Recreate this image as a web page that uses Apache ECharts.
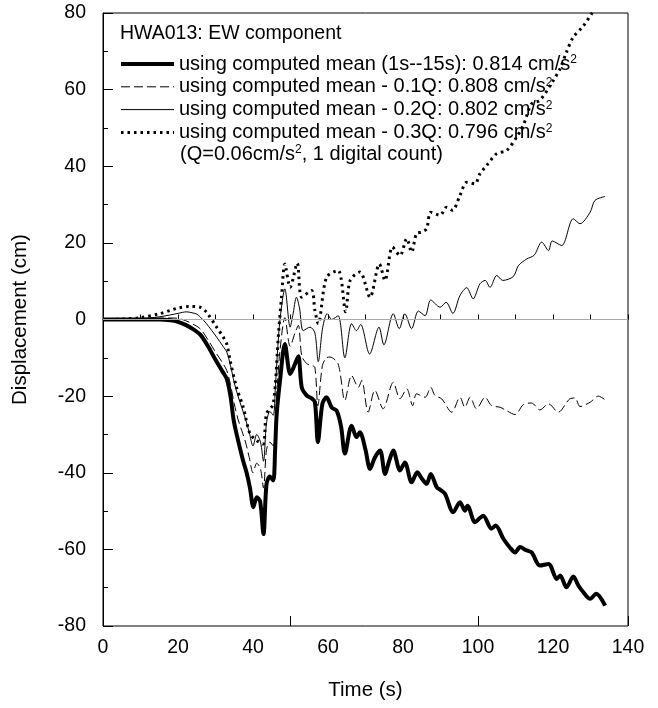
<!DOCTYPE html>
<html>
<head>
<meta charset="utf-8">
<script src="https://cdn.jsdelivr.net/npm/echarts@6/dist/echarts.min.js"></script>
<style>
  html, body { margin: 0; padding: 0; background: #fff; }
  #chart { width: 658px; height: 708px; }
</style>
</head>
<body>
<div id="chart"></div>
<script>
// [time (s), displacement (cm)]
const meanPts = [
  [0,0],[5,0],[10,0],[15,0],[18,-0.2],[20,-0.6],[22,-1.4],[24,-2.5],[26,-4],[28,-7],[30,-10.5],[32,-13.8],
  [33,-15.5],[34,-20],[34.8,-26],[35.6,-29.8],[36.5,-33.5],[37.4,-37],[38.3,-40],[39.2,-44],[40.1,-49],
  [41,-46.4],[41.9,-47.5],[42.8,-56],[43.6,-43],[44.5,-41],[45.4,-42],[45.9,-34],[46.3,-25],[47.2,-16],
  [48.5,-6.4],[49.9,-14.2],[50.6,-13],[51.2,-11.6],[52.1,-9.6],[53,-17.7],[54.3,-19.8],[55.5,-20.5],
  [56.5,-21.5],[57.3,-32],[58.5,-22],[59.6,-20.3],[61,-23],[62.3,-23.8],[63.5,-28],[64.5,-35],[66.3,-27.7],
  [67.6,-30.7],[68.5,-29.4],[70,-34],[71.2,-39],[72.5,-36],[73.9,-34.2],[75.2,-40.3],[76.3,-37],[77.4,-34.2],
  [79.2,-39.4],[80.5,-37.3],[82.3,-42.5],[83.8,-39.9],[85,-41.5],[86.3,-42.9],[87.4,-40.3],[89,-43.8],
  [90,-44.5],[91.2,-45.5],[93.4,-50.3],[95.2,-47.7],[96.5,-49.9],[97.2,-48.6],[99.2,-52.9],[100.5,-51.8],
  [101.4,-51.2],[103.6,-54.6],[104.7,-53.8],[106.8,-57.3],[108.5,-59.5],[109.9,-60.8],[111.2,-59.4],
  [112.8,-60.2],[114.3,-60.8],[116.5,-64.2],[118.8,-63.8],[121,-67.7],[121.9,-66.8],[123.6,-69.9],
  [125.4,-67.1],[126.8,-69.5],[128.1,-71.2],[129.9,-72.9],[131.5,-71.6],[133.9,-74.7]
];
const minus01Pts = [
  [0,0],[5,0],[10,0.1],[15,0.3],[18,0.4],[20,0.3],[22,-0.3],[24,-1.2],[26,-2.5],[28,-5.3],[30,-8.5],
  [32,-11.5],[33,-13.3],[34,-17],[35,-22],[36,-26],[37,-29],[38,-32],[39,-36],[40,-40],[41,-37.5],[42,-39],
  [42.8,-44],[43.6,-34],[44.5,-32],[45.4,-33],[46,-26],[46.5,-17],[47.2,-8],[48.5,0.5],[49.9,-7],[51.2,-3.5],
  [52.1,-1.5],[53,-9.5],[54.3,-11.5],[55.5,-12],[56.5,-12.5],[57.3,-22.5],[58.5,-12],[59.6,-10],[60.5,-9.8],
  [62.7,-11.6],[64.5,-21.1],[66.3,-14.6],[68.1,-17.7],[69,-15.9],[70.7,-24.2],[72.5,-18.5],[74.7,-23.3],
  [77.4,-16.4],[79.2,-20.7],[81,-18.1],[82.6,-22.5],[83.6,-19.4],[85.9,-20.3],[87.4,-17.7],[88.5,-19.8],
  [90.3,-20.7],[93,-24.2],[95.2,-20.3],[96.5,-22.9],[97.9,-20.3],[99.6,-23.3],[101.9,-20.3],[103.6,-22.5],
  [105.9,-22.9],[107.6,-23.8],[109.9,-24.8],[112.1,-22.2],[114.3,-21.8],[116.5,-23.6],[118.8,-22],
  [121.4,-24.2],[124.5,-20.7],[125.9,-20.5],[127.2,-22.7],[129.9,-21.6],[132.1,-20],[134.3,-21.3]
];
const minus02Pts = [
  [0,0],[5,0],[10,0.2],[15,0.7],[18,1.2],[20,1.6],[22.3,2],[24,1.7],[25,1.4],[26,0.6],[27.6,-1.1],
  [30.3,-4.6],[32,-7],[33,-8.5],[34,-12],[35,-16.5],[36,-20],[37,-23],[38,-26],[39,-29.5],[40,-33],[41,-30],
  [42,-32],[42.8,-37],[43.6,-27],[44.5,-24],[45.4,-25],[46,-17],[46.5,-9],[47.2,0],[48.5,8],[49.9,-2],
  [50.6,1],[51.6,5.8],[52.4,3],[53.4,-2.9],[55.2,-2],[56.5,-3.5],[57.4,-11],[58.6,-2],[59.8,1.5],[61,0],
  [62.7,1],[64.5,-10],[66.3,-1.1],[67.6,-2.9],[68.7,-1.3],[71.1,-9],[73.6,-2],[74.9,-6.6],[77.4,1.5],
  [79,-2.4],[80.5,1.5],[82.3,-2.4],[84.1,2.2],[85.9,1],[87.4,5.1],[89.9,3.2],[91.5,4.5],[93.3,1.6],
  [95.2,6.3],[97,8.3],[98.7,5.4],[100.5,9.3],[101.9,10.2],[103.2,8.4],[105,11.5],[106.6,10.2],[109.4,11.2],
  [110.8,14.1],[113,15.8],[115,16.8],[117,20.2],[118.8,18],[119.8,20.5],[122.3,19.3],[125.4,26.3],
  [127.2,25],[129.9,28],[131.2,31.1],[133.9,32.1]
];
const minus03Pts = [
  [0,0],[5,0.1],[10,0.5],[15,1.5],[18,2.4],[20,3],[23.2,3.4],[25.9,3.2],[27.6,1.9],[30.3,-2],[32,-4.5],
  [33,-6.4],[33.9,-10.7],[35.6,-17.7],[37.4,-22.9],[39.2,-29.8],[41,-31.6],[42.7,-32.5],[43.6,-24.6],
  [45.4,-22],[46.8,-3.7],[47.6,5.8],[48.5,14.5],[49.9,8.4],[51.8,14.7],[53,5.8],[55.6,7.6],[56.5,2.4],
  [57.4,-1.1],[59.6,11],[62.7,12.8],[64.7,2],[65.9,10.2],[68.5,12.4],[71.2,5.8],[73.7,14.5],[75.2,10.2],
  [77.2,18.9],[79.2,16.7],[81,21.1],[82.3,17.6],[83.6,22.4],[85,22.8],[86.3,23.7],[87.4,28],[89.9,27.2],
  [91.6,29.3],[93.2,28.5],[95.2,32.4],[97,35.8],[99.2,35.4],[100.5,38],[102.3,40.2],[105,43.3],[107.6,44.1],
  [110.3,47.6],[112.1,50.7],[114.3,56.3],[116.5,57.2],[120.1,62.4],[121.9,65.5],[123.6,69.8],[125.4,73.7],
  [128,76.5],[130.3,79.8],[131,81]
];

const seriesNames = ["mean", "m01", "m02", "m03"];
const legendText = {
  mean: "using computed mean (1s--15s): 0.814 cm/s{sup|2}",
  m01: "using computed mean - 0.1Q: 0.808 cm/s{sup|2}",
  m02: "using computed mean - 0.2Q: 0.802 cm/s{sup|2}",
  m03: "using computed mean - 0.3Q: 0.796 cm/s{sup|2}"
};

const FONT = "'Liberation Sans', Arial, Helvetica, sans-serif";
const supStyle = { fontSize: 12, verticalAlign: "top", fontFamily: FONT, color: "#000" };
const chart = echarts.init(document.getElementById("chart"));

const option = {
  backgroundColor: "#fff",
  animation: false,
  textStyle: { fontFamily: FONT, color: "#000" },
  title: [
    {
      text: "HWA013: EW component",
      left: 120, top: 24, padding: 0,
      textStyle: { fontSize: 19.5, fontWeight: "normal", color: "#000", fontFamily: FONT }
    },
    {
      text: "(Q=0.06cm/s{sup|2}, 1 digital count)",
      left: 180, top: 144, padding: 0,
      textStyle: {
        fontSize: 20, fontWeight: "normal", color: "#000", fontFamily: FONT,
        rich: { sup: supStyle }
      }
    }
  ],
  legend: {
    data: seriesNames,
    orient: "vertical",
    left: 119, top: 54, padding: 0,
    itemWidth: 53, itemHeight: 14, itemGap: 2.8,
    selectedMode: false,
    itemStyle: { opacity: 0 },
    lineStyle: { width: "inherit" },
    formatter: (name) => legendText[name],
    textStyle: {
      fontSize: 20, color: "#000", fontFamily: FONT,
      rich: { sup: supStyle }
    }
  },
  grid: {
    left: 103, right: 30, top: 13, bottom: 82,
    show: true, borderColor: "#000", borderWidth: 1
  },
  xAxis: [
    {
      type: "value", min: 0, max: 140, interval: 10,
      name: "Time (s)", nameLocation: "middle", nameGap: 54,
      nameTextStyle: { fontSize: 20.5, color: "#000", fontFamily: FONT },
      axisLine: { lineStyle: { color: "#000", width: 1 } },
      axisTick: { inside: true, length: 5, lineStyle: { color: "#000" } },
      axisLabel: {
        fontSize: 19.5, color: "#000", margin: 12, fontFamily: FONT,
        formatter: (v) => (v % 20 === 0 ? String(v) : "")
      },
      splitLine: { show: false }
    },
    {
      type: "value", min: 0, max: 140, interval: 50, position: "bottom",
      axisLine: { show: false },
      axisTick: { inside: true, length: 10, lineStyle: { color: "#000" } },
      axisLabel: { show: false },
      splitLine: { show: false }
    }
  ],
  yAxis: {
    type: "value", min: -80, max: 80, interval: 20,
    name: "Displacement (cm)", nameLocation: "middle", nameGap: 72,
    nameTextStyle: { fontSize: 20.5, color: "#000", fontFamily: FONT },
    axisLine: { lineStyle: { color: "#000", width: 1 } },
    axisTick: { inside: true, length: 10, lineStyle: { color: "#000" } },
    minorTick: { show: true, splitNumber: 2, length: 5, lineStyle: { color: "#000" } },
    axisLabel: { fontSize: 19.5, color: "#000", margin: 17, fontFamily: FONT },
    splitLine: { show: false }
  },
  series: [
    {
      name: "zero", type: "line", data: [], z: 1,
      markLine: {
        silent: true, symbol: "none", label: { show: false },
        lineStyle: { color: "#aaa", width: 1, type: "solid" },
        data: [{ yAxis: 0 }]
      }
    },
    {
      name: "m03", type: "line", data: minus03Pts, showSymbol: false, symbol: "none", smooth: 0.3,
      lineStyle: { color: "#000", width: 3, type: [2.5, 4] }, itemStyle: { color: "#000" }
    },
    {
      name: "m02", type: "line", data: minus02Pts, showSymbol: false, symbol: "none", smooth: 0.3,
      lineStyle: { color: "#000", width: 1 }, itemStyle: { color: "#000" }
    },
    {
      name: "m01", type: "line", data: minus01Pts, showSymbol: false, symbol: "none", smooth: 0.3,
      lineStyle: { color: "#000", width: 1, type: [9, 4] }, itemStyle: { color: "#000" }
    },
    {
      name: "mean", type: "line", data: meanPts, showSymbol: false, symbol: "none", smooth: 0.3,
      lineStyle: { color: "#000", width: 4 }, itemStyle: { color: "#000" }
    }
  ]
};

chart.setOption(option);
</script>
</body>
</html>
